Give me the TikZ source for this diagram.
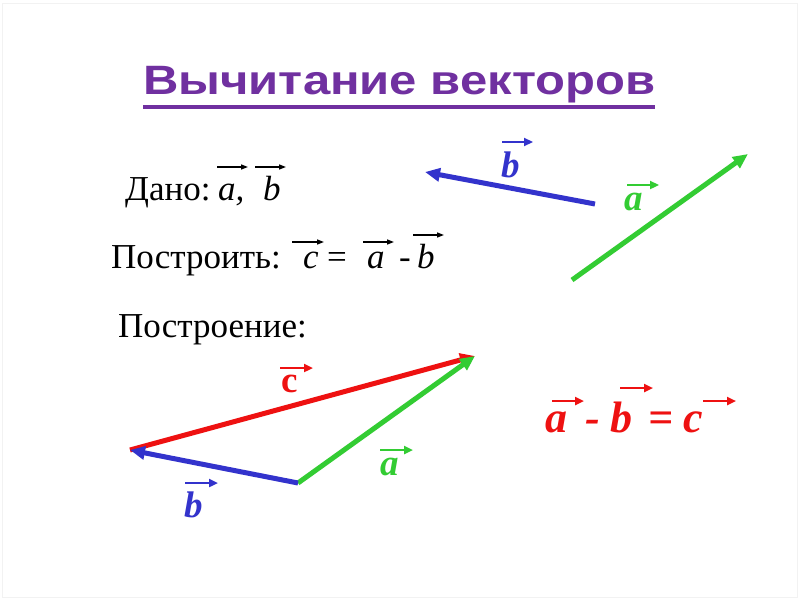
\documentclass[tikz,border=0pt]{standalone}
\usepackage{fontspec}
\usepackage{graphicx}
\setmainfont{Liberation Serif}
\newfontfamily\titlefont{Liberation Sans}
\usetikzlibrary{arrows.meta}
\definecolor{ttl}{RGB}{112,48,160}
\definecolor{vblue}{RGB}{51,51,204}
\definecolor{vgreen}{RGB}{51,204,51}
\definecolor{vred}{RGB}{238,17,17}
\tikzset{
  txt/.style={anchor=base west,inner sep=0pt,font=\fontsize{35}{40}\selectfont},
  lbl/.style={anchor=base west,inner sep=0pt,font=\fontsize{37}{40}\selectfont\bfseries\itshape},
  big/.style={anchor=base west,inner sep=0pt,text=vred,font=\fontsize{44}{48}\selectfont\bfseries\itshape},
  vec/.style={line width=5pt,-{Triangle[length=15pt,width=13pt]}},
  tarr/.style={line width=1.3pt,-{Triangle[length=7pt,width=5pt]}},
  larr/.style={line width=2.6pt,-{Triangle[length=9pt,width=8pt]}}
}
\begin{document}
\begin{tikzpicture}[x=1pt,y=-1pt]
\useasboundingbox (0,0) rectangle (800,599);
\fill[white] (0,0) rectangle (800,599);
\draw[black!5,line width=1pt] (2.5,4) rectangle (797.5,597);
% title
\node[anchor=base west,inner sep=0pt,text=ttl,font=\fontsize{41}{44}\selectfont\titlefont\bfseries] (title) at (143,95)
  {\resizebox{512pt}{\height}{Вычитание векторов}};
\draw[ttl,line width=3.5pt] (title.base west) ++(0,12) coordinate (u1) -- ++(512,0) coordinate (u2);
% Дано
\node[txt] (dano) at (125,200) {Дано:};
\node[txt] (da) at (218,200) {\itshape a,};
\node[txt] (db) at (263,200) {\itshape b};
\draw[tarr] (217,167) -- (248,167);
\draw[tarr] (255,167) -- (286,167);
% Построить
\node[txt] (postr) at (111,268) {Построить:};
\node[txt] (pc) at (303,268) {\itshape c};
\node[txt] (peq) at (327,268) {=};
\node[txt] (pa) at (367,268) {\itshape a};
\node[txt] (pm) at (399,268) {-};
\node[txt] (pb) at (417,268) {\itshape b};
\draw[tarr] (292,242) -- (324,242);
\draw[tarr] (363,242) -- (394,242);
\draw[tarr] (413,235) -- (444,235);
% Построение
\node[txt] (postro) at (118,337) {Построение:};
% given vectors
\coordinate (bT) at (595,204);
\coordinate (bH) at (425,172);
\draw[vec,vblue] (bT) -- (bH);
\node[lbl,text=vblue] (lb1) at (501,177) {b};
\draw[larr,vblue] (502,142) -- (533,142);
\coordinate (aT) at (572,280);
\coordinate (aH) at (748,154);
\draw[vec,vgreen] (aT) -- (aH);
\node[lbl,text=vgreen] (la1) at (624,210) {a};
\draw[larr,vgreen] (627,185) -- (659,185);
% construction
\coordinate (O) at (298,483);
\coordinate (P) at (130,450);
\coordinate (Q) at (475,356);
\draw[vec,vred] (P) -- (Q);
\draw[vec,vgreen] (O) -- (Q);
\draw[vec,vblue] (O) -- (P);
\node[anchor=base west,inner sep=0pt,text=vred,font=\fontsize{37}{40}\selectfont\bfseries] (lc) at (281,392) {c};
\draw[larr,vred] (280,368) -- (313,368);
\node[lbl,text=vgreen] (la2) at (380,475) {a};
\draw[larr,vgreen] (380,450) -- (413,450);
\node[lbl,text=vblue] (lb2) at (184,517) {b};
\draw[larr,vblue] (185,483) -- (218,483);
% formula
\node[big] (fa) at (545,432) {a};
\node[big] (fm) at (585,432) {-};
\node[big] (fb) at (610,432) {b};
\node[big] (feq) at (648,432) {=};
\node[big] (fc) at (683,432) {c};
\draw[larr,vred] (552,401) -- (584,401);
\draw[larr,vred] (620,388) -- (653,388);
\draw[larr,vred] (703,401) -- (736,401);
\end{tikzpicture}
\end{document}
